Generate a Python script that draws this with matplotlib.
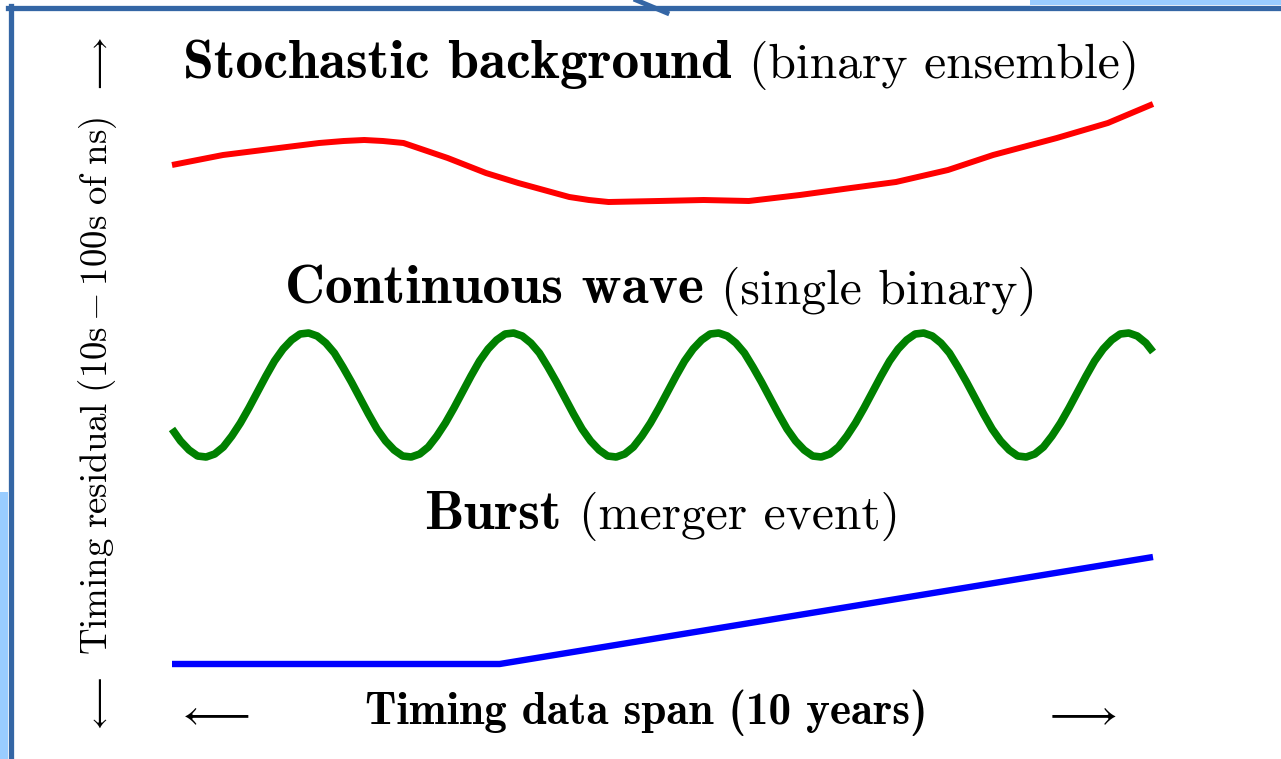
import os

import matplotlib
matplotlib.use('Agg')
from matplotlib import pyplot as plt
from matplotlib.font_manager import FontProperties
from matplotlib.lines import Line2D
from matplotlib.patches import Rectangle

plt.rcParams['mathtext.fontset'] = 'cm'

# x: timing data span in years, y: residual (screen rows, downward)
red_x = [0.0, 0.52, 1.17, 1.5, 1.75, 1.96, 2.15, 2.36, 2.81, 3.2, 3.53, 4.05, 4.25, 4.45,
         4.96, 5.42, 5.88, 6.4, 6.92, 7.38, 7.91, 8.37, 9.02, 9.54, 10.0]
red_y = [165, 155, 147, 143, 141, 140, 141, 143, 158, 173, 183, 197, 200, 202,
         201, 200, 201, 195, 188, 182, 170, 155, 138, 123, 104]

green_x = [0.0, 0.087, 0.174, 0.261, 0.348, 0.435, 0.523, 0.61, 0.697, 0.784, 0.871, 0.958,
           1.045, 1.132, 1.219, 1.306, 1.393, 1.48, 1.568, 1.655, 1.742, 1.829, 1.916, 2.003,
           2.09, 2.177, 2.264, 2.351, 2.438, 2.525, 2.613, 2.7, 2.787, 2.874, 2.961, 3.048,
           3.135, 3.222, 3.309, 3.396, 3.483, 3.57, 3.658, 3.745, 3.832, 3.919, 4.006, 4.093,
           4.18, 4.267, 4.354, 4.441, 4.528, 4.615, 4.703, 4.79, 4.877, 4.964, 5.051, 5.138,
           5.225, 5.312, 5.399, 5.486, 5.573, 5.66, 5.748, 5.835, 5.922, 6.009, 6.096, 6.183,
           6.27, 6.357, 6.444, 6.531, 6.618, 6.705, 6.793, 6.88, 6.967, 7.054, 7.141, 7.228,
           7.315, 7.402, 7.489, 7.576, 7.663, 7.75, 7.838, 7.925, 8.012, 8.099, 8.186, 8.273,
           8.36, 8.447, 8.534, 8.621, 8.708, 8.795, 8.883, 8.97, 9.057, 9.144, 9.231, 9.318,
           9.405, 9.492, 9.579, 9.666, 9.753, 9.84, 9.928, 10.0]
green_y = [429, 441, 450, 456, 457, 454, 447, 436, 423, 408, 392, 376,
           361, 349, 340, 334, 333, 336, 343, 353, 367, 382, 398, 414,
           429, 441, 450, 456, 457, 454, 447, 436, 423, 408, 392, 376,
           361, 349, 340, 334, 333, 336, 343, 353, 367, 382, 398, 414,
           429, 441, 450, 456, 457, 454, 447, 436, 423, 408, 392, 376,
           361, 349, 340, 334, 333, 336, 343, 353, 367, 382, 398, 414,
           429, 441, 450, 456, 457, 454, 447, 436, 423, 408, 392, 376,
           361, 349, 340, 334, 333, 336, 343, 353, 367, 382, 398, 414,
           429, 441, 450, 456, 457, 454, 447, 436, 423, 408, 392, 376,
           361, 349, 340, 334, 333, 336, 343, 352]

blue_x = [0.0, 3.34, 10.0]
blue_y = [664, 664, 557]

# (bold part, regular part, centre px, baseline px)
titles = [
    ('Stochastic background', '(binary ensemble)', 661, 78),
    ('Continuous wave', '(single binary)', 661, 304),
    ('Burst', '(merger event)', 662, 529),
]
xlabel = 'Timing data span (10 years)'

W, H = 1281, 759
TTF = os.path.join(matplotlib.get_data_path(), 'fonts', 'ttf')


def fx(px):
    return px / W


def fy(py):
    return 1 - py / H


def main():
    fig = plt.figure(figsize=(12.81, 7.59), dpi=100)
    fig.patch.set_facecolor('white')

    # bits of the slide around the frame
    fig.patches.append(Rectangle((0, 0), fx(8), fy(492), transform=fig.transFigure,
                                 facecolor='#99ccff', edgecolor='none'))
    fig.patches.append(Rectangle((fx(1030), fy(5)), 1 - fx(1030), 1 - fy(5),
                                 transform=fig.transFigure, facecolor='#99ccff', edgecolor='none'))
    frame = '#3466a5'
    fig.lines.append(Line2D([fx(10.5), fx(10.5)], [0, fy(6)], transform=fig.transFigure,
                            color=frame, linewidth=3.8))
    fig.lines.append(Line2D([fx(8), 1], [fy(8), fy(8)], transform=fig.transFigure,
                            color=frame, linewidth=3.8))
    fig.lines.append(Line2D([fx(636), fx(667)], [1, fy(13)], transform=fig.transFigure,
                            color=frame, linewidth=3.5))

    ax = fig.add_axes([0, 0, 1, 1])
    ax.axis('off')
    ax.set_xlim(-172 / 98.1, (W - 172) / 98.1)
    ax.set_ylim(H, 0)

    ax.plot(red_x, red_y, color='#ff0000', linewidth=4.3, solid_capstyle='butt', solid_joinstyle='round')
    ax.plot(green_x, green_y, color='#008000', linewidth=5.5, solid_capstyle='butt', solid_joinstyle='round')
    ax.plot(blue_x, blue_y, color='#0000ff', linewidth=4.6, solid_capstyle='butt', solid_joinstyle='round')

    # bold + roman heading, centred as one line
    bold = FontProperties(fname=os.path.join(TTF, 'cmb10.ttf'), size=40)
    roman = FontProperties(fname=os.path.join(TTF, 'cmr10.ttf'), size=35.7)
    renderer = fig.canvas.get_renderer()
    gap = 17
    for b, r, xc, yb in titles:
        tb = fig.text(0, fy(yb), b, fontproperties=bold, ha='left', va='baseline')
        tr = fig.text(0, fy(yb), r, fontproperties=roman, ha='left', va='baseline')
        wb = tb.get_window_extent(renderer).width
        wr = tr.get_window_extent(renderer).width
        x0 = xc - (wb + gap + wr) / 2
        tb.set_x(fx(x0))
        tr.set_x(fx(x0 + wb + gap))

    cmb = FontProperties(fname=os.path.join(TTF, 'cmb10.ttf'), size=32.5)
    fig.text(fx(646), fy(713), xlabel, fontproperties=cmb, ha='center', va='center')
    fig.text(fx(212), fy(713), r'$\longleftarrow$', fontsize=31, ha='center', va='center')
    fig.text(fx(1079), fy(713), r'$\longrightarrow$', fontsize=31, ha='center', va='center')

    fig.text(fx(98), fy(386), r'$\mathrm{Timing\ residual\ (10s - 100s\ of\ ns)}$', fontsize=26.5,
             ha='center', va='center', rotation=90)
    fig.text(fx(98), fy(66), r'$\longrightarrow$', fontsize=24, ha='center', va='center', rotation=90)
    fig.text(fx(98), fy(706), r'$\longleftarrow$', fontsize=24, ha='center', va='center', rotation=90)

    fig.savefig('out.png', dpi=100, facecolor='white')


if __name__ == '__main__':
    main()
